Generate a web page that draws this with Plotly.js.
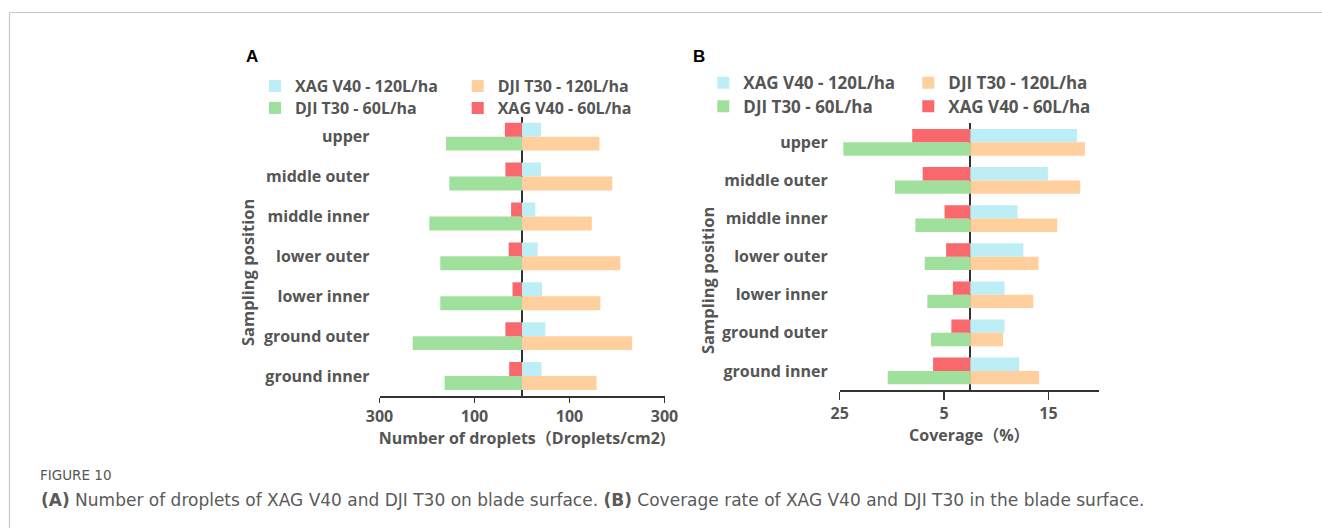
<!DOCTYPE html>
<html>
<head>
<meta charset="utf-8">
<script src="https://cdn.plot.ly/plotly-3.0.1.min.js"></script>
<style>html,body{margin:0;padding:0;background:#fff;}#chart{width:1322px;height:528px;}</style>
</head>
<body>
<div id="chart"></div>
<script>
// ---- data ----
const categories = ['upper', 'middle outer', 'middle inner', 'lower outer', 'lower inner', 'ground outer', 'ground inner'];
const seriesNames = ['XAG V40 - 120L/ha', 'DJI T30 - 120L/ha', 'DJI T30 - 60L/ha', 'XAG V40 - 60L/ha'];

// Panel A: number of droplets (Droplets/cm2)
const dropletsXAG120 = [40, 40, 28, 33, 42, 49, 41];
const dropletsDJI120 = [163, 190, 147, 207, 165, 232, 157];
const dropletsDJI60 = [160, 153, 195, 172, 172, 230, 163];
const dropletsXAG60 = [36, 35, 23, 28, 20, 35, 27];

// Panel B: coverage (%)
const coverageXAG120 = [20.5, 14.9, 9.1, 10.2, 6.6, 6.6, 9.4];
const coverageDJI120 = [22.0, 21.1, 16.7, 13.1, 12.1, 6.3, 13.2];
const coverageDJI60 = [24.3, 14.4, 10.5, 8.7, 8.2, 7.5, 15.8];
const coverageXAG60 = [11.1, 9.1, 4.9, 4.6, 3.3, 3.6, 7.1];

const tickValsA = [-300, -100, 100, 300];
const tickTextA = ['300', '100', '100', '300'];
const tickValsB = [-25, -5, 15];
const tickTextB = ['25', '5', '15'];

// ---- styling ----
const W = 1322, H = 528;
const px = v => v / W;
const py = v => 1 - v / H;
const colors = {xag120: '#bdedf5', dji120: '#ffcf9d', dji60: '#9fe09c', xag60: '#f9686d'};
const FONT = 'Open Sans, Noto Sans CJK SC, sans-serif';
const GREY = '#555555';
const neg = arr => arr.map(v => -v);

function bar(name, x, color, top, xa, ya, legend) {
  return {
    type: 'bar', orientation: 'h', name: name, x: x, y: categories,
    xaxis: xa, yaxis: ya, marker: {color: color, line: {width: 0}},
    width: 0.35, offset: top ? -0.35 : 0, legend: legend, hoverinfo: 'x+y+name'
  };
}

const traces = [
  bar(seriesNames[0], dropletsXAG120, colors.xag120, true, 'x', 'y', 'legend'),
  bar(seriesNames[1], dropletsDJI120, colors.dji120, false, 'x', 'y', 'legend2'),
  bar(seriesNames[2], neg(dropletsDJI60), colors.dji60, false, 'x', 'y', 'legend3'),
  bar(seriesNames[3], neg(dropletsXAG60), colors.xag60, true, 'x', 'y', 'legend4'),
  bar(seriesNames[0], coverageXAG120, colors.xag120, true, 'x2', 'y2', 'legend5'),
  bar(seriesNames[1], coverageDJI120, colors.dji120, false, 'x2', 'y2', 'legend6'),
  bar(seriesNames[2], neg(coverageDJI60), colors.dji60, false, 'x2', 'y2', 'legend7'),
  bar(seriesNames[3], neg(coverageXAG60), colors.xag60, true, 'x2', 'y2', 'legend8')
];

function leg(textX, rowY, size) {
  return {
    x: px(textX - 40), y: py(rowY), xanchor: 'left', yanchor: 'middle',
    bgcolor: 'rgba(0,0,0,0)', borderwidth: 0,
    font: {family: FONT, size: size, color: GREY, weight: 'bold'}
  };
}

const tickFont = {family: FONT, size: 16, color: GREY, weight: 'bold'};
const catFont = {family: FONT, size: 16, color: GREY, weight: 'bold'};

const layout = {
  width: W, height: H,
  margin: {l: 0, r: 0, t: 0, b: 0},
  paper_bgcolor: '#ffffff', plot_bgcolor: 'rgba(0,0,0,0)',
  barmode: 'overlay', showlegend: true,
  xaxis: {
    domain: [px(379.5), px(664.5)], range: [-300, 300], anchor: 'y',
    tickvals: tickValsA, ticktext: tickTextA, tickfont: tickFont,
    ticks: 'outside', ticklen: 5, tickwidth: 1.5, tickcolor: '#333',
    showline: true, linecolor: '#333', linewidth: 1.5,
    showgrid: false, zeroline: true, zerolinecolor: '#333', zerolinewidth: 1.5,
    title: {text: 'Number of droplets（Droplets/cm2)', font: {family: FONT, size: 16, color: GREY, weight: 'bold'}, standoff: 0}
  },
  yaxis: {
    domain: [py(396), py(116.7)], type: 'category', categoryorder: 'array', categoryarray: categories,
    range: [6.5, -0.5], anchor: 'x', showgrid: false, showline: false, zeroline: false,
    ticks: '', ticklabelstandoff: 9, tickfont: catFont
  },
  xaxis2: {
    domain: [px(839.7), px(1099)], range: [-25, 24.7], anchor: 'y2',
    tickvals: tickValsB, ticktext: tickTextB, tickfont: tickFont,
    ticks: 'outside', ticklen: 8, tickwidth: 1.5, tickcolor: '#333',
    showline: true, linecolor: '#333', linewidth: 1.5,
    showgrid: false, zeroline: true, zerolinecolor: '#333', zerolinewidth: 1.5,
    title: {text: 'Coverage（%）', font: {family: FONT, size: 16, color: GREY, weight: 'bold'}, standoff: 0}
  },
  yaxis2: {
    domain: [py(390), py(123.3)], type: 'category', categoryorder: 'array', categoryarray: categories,
    range: [6.5, -0.5], anchor: 'x2', showgrid: false, showline: false, zeroline: false,
    ticks: '', ticklabelstandoff: 11, tickfont: catFont
  },
  legend: leg(295, 86, 16),
  legend2: leg(497.7, 86, 16),
  legend3: leg(295, 108, 16),
  legend4: leg(497.7, 108, 16),
  legend5: leg(743.3, 83.3, 17),
  legend6: leg(948.3, 83.3, 17),
  legend7: leg(743.3, 106.7, 17),
  legend8: leg(948.3, 106.7, 17),
  annotations: [
    {text: 'A', x: px(251.5), y: py(56), xref: 'paper', yref: 'paper', xanchor: 'center', yanchor: 'middle', showarrow: false,
     font: {family: 'Liberation Sans, Arial, sans-serif', size: 17, color: '#000', weight: 'bold'}},
    {text: 'B', x: px(699.5), y: py(56), xref: 'paper', yref: 'paper', xanchor: 'center', yanchor: 'middle', showarrow: false,
     font: {family: 'Liberation Sans, Arial, sans-serif', size: 17, color: '#000', weight: 'bold'}},
    {text: 'Sampling position', x: px(247.5), y: py(272.5), xref: 'paper', yref: 'paper', xanchor: 'center', yanchor: 'middle', showarrow: false,
     textangle: -90, font: {family: FONT, size: 16.5, color: GREY, weight: 'bold'}},
    {text: 'Sampling position', x: px(707), y: py(281), xref: 'paper', yref: 'paper', xanchor: 'center', yanchor: 'middle', showarrow: false,
     textangle: -90, font: {family: FONT, size: 16.5, color: GREY, weight: 'bold'}},
    {text: 'FIGURE 10', x: px(38), y: py(475), xref: 'paper', yref: 'paper', xanchor: 'left', yanchor: 'middle', showarrow: false,
     font: {family: 'DejaVu Sans, sans-serif', size: 13.5, color: '#555'}},
    {text: '<b>(A)</b> Number of droplets of XAG V40 and DJI T30 on blade surface. <b>(B)</b> Coverage rate of XAG V40 and DJI T30 in the blade surface.',
     x: px(39), y: py(500), xref: 'paper', yref: 'paper', xanchor: 'left', yanchor: 'middle', showarrow: false,
     font: {family: 'DejaVu Sans, sans-serif', size: 17, color: '#5a5a5a'}}
  ],
  shapes: [
    {type: 'line', xref: 'paper', yref: 'paper', x0: px(9.5), x1: 1, y0: py(12.5), y1: py(12.5), line: {color: '#c8c8c8', width: 1.2}},
    {type: 'line', xref: 'paper', yref: 'paper', x0: px(9.5), x1: px(9.5), y0: py(12.5), y1: 0, line: {color: '#c8c8c8', width: 1.2}}
  ]
};

Plotly.newPlot('chart', traces, layout, {displayModeBar: false, staticPlot: true});
</script>
</body>
</html>
